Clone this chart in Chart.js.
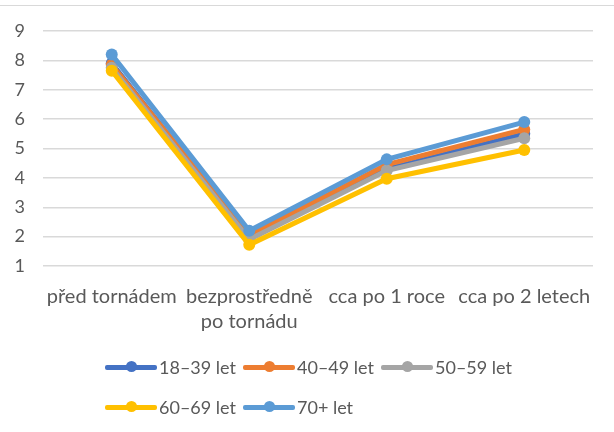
<!DOCTYPE html>
<html>
<head>
<meta charset="utf-8">
<script src="https://cdn.jsdelivr.net/npm/chart.js@4"></script>
<style>
  body { margin: 0; background: #fff; }
  #wrap { position: relative; width: 614px; height: 432px; overflow: hidden; }
  #wrap::before { content: ""; position: absolute; left: 0; right: 0; top: 5px; height: 1px; background: #d9d9d9; }
  #legend { position: absolute; left: 105px; top: 354px; width: 420px; font-family: Lato, sans-serif; font-size: 18px; color: #595959; }
  .legend-item { position: absolute; display: flex; align-items: center; height: 26px; }
  .legend-line { position: relative; width: 52px; height: 5px; border-radius: 2px; }
  .legend-dot { position: absolute; left: 21px; top: -3.5px; width: 11px; height: 11px; border-radius: 50%; }
  .legend-text { margin-left: 2px; white-space: nowrap; }
</style>
</head>
<body>
<div id="wrap">
  <canvas id="chart" width="614" height="432"></canvas>
  <div id="legend"></div>
</div>
<script>
const categories = ["před tornádem", ["bezprostředně", "po tornádu"], "cca po 1 roce", "cca po 2 letech"];

const seriesNames = ["18–39 let", "40–49 let", "50–59 let", "60–69 let", "70+ let"];
const seriesColors = ["#4472C4", "#ED7D31", "#A5A5A5", "#FFC000", "#5B9BD5"];

const age18to39 = [7.9, 2.0, 4.3, 5.5];
const age40to49 = [7.85, 2.05, 4.45, 5.65];
const age50to59 = [7.75, 1.9, 4.25, 5.35];
const age60to69 = [7.65, 1.72, 3.97, 4.95];
const age70plus = [8.2, 2.2, 4.63, 5.9];

const seriesValues = [age18to39, age40to49, age50to59, age60to69, age70plus];

const yTicks = [1, 2, 3, 4, 5, 6, 7, 8, 9];

const font = { family: "Lato, sans-serif", size: 18 };

// Excel kreslí poslední řadu navrch
const datasets = seriesNames.map((name, i) => ({
  label: name,
  data: seriesValues[i],
  borderColor: seriesColors[i],
  backgroundColor: seriesColors[i],
  pointBackgroundColor: seriesColors[i],
  pointBorderColor: seriesColors[i],
  borderWidth: 5,
  pointRadius: 6,
  pointBorderWidth: 0,
  tension: 0,
  order: seriesNames.length - i,
}));

new Chart(document.getElementById("chart").getContext("2d"), {
  type: "line",
  data: { labels: categories, datasets },
  options: {
    responsive: false,
    animation: false,
    layout: { padding: { top: 31, left: 15, right: 21, bottom: 80 } },
    plugins: {
      legend: { display: false },
      tooltip: { enabled: false },
    },
    scales: {
      x: {
        offset: true,
        grid: { display: false, drawTicks: false },
        border: { display: false },
        ticks: {
          color: "#595959",
          font: { family: font.family, size: 20, lineHeight: 1.25 },
          padding: 18,
          maxRotation: 0,
          autoSkip: false,
        },
        // popisky smí přesahovat do okraje, plocha grafu se nezužuje
        afterFit: (axis) => {
          axis.paddingLeft = 0;
          axis.paddingRight = 0;
          if (axis._margins) { axis._margins.left = 0; axis._margins.right = 0; }
        },
      },
      y: {
        min: yTicks[0],
        max: yTicks[yTicks.length - 1],
        afterBuildTicks: (axis) => { axis.ticks = yTicks.map(v => ({ value: v })); },
        afterFit: (axis) => { axis.width = 28; },
        grid: { color: "#d9d9d9", lineWidth: 1.5, drawTicks: false },
        border: { display: false },
        ticks: {
          color: "#595959",
          font,
          padding: 18,
        },
      },
    },
  },
});

function renderLegend() {
  const container = document.getElementById("legend");
  const colX = [0, 138, 276];
  const rowY = [0, 40];

  seriesNames.forEach((name, i) => {
    const item = document.createElement("div");
    item.className = "legend-item";
    item.style.left = colX[i % 3] + "px";
    item.style.top = rowY[Math.floor(i / 3)] + "px";
    item.innerHTML = `
      <span class="legend-line" style="background:${seriesColors[i]}">
        <span class="legend-dot" style="background:${seriesColors[i]}"></span>
      </span>
      <span class="legend-text">${name}</span>
    `;
    container.appendChild(item);
  });
}

renderLegend();
</script>
</body>
</html>
